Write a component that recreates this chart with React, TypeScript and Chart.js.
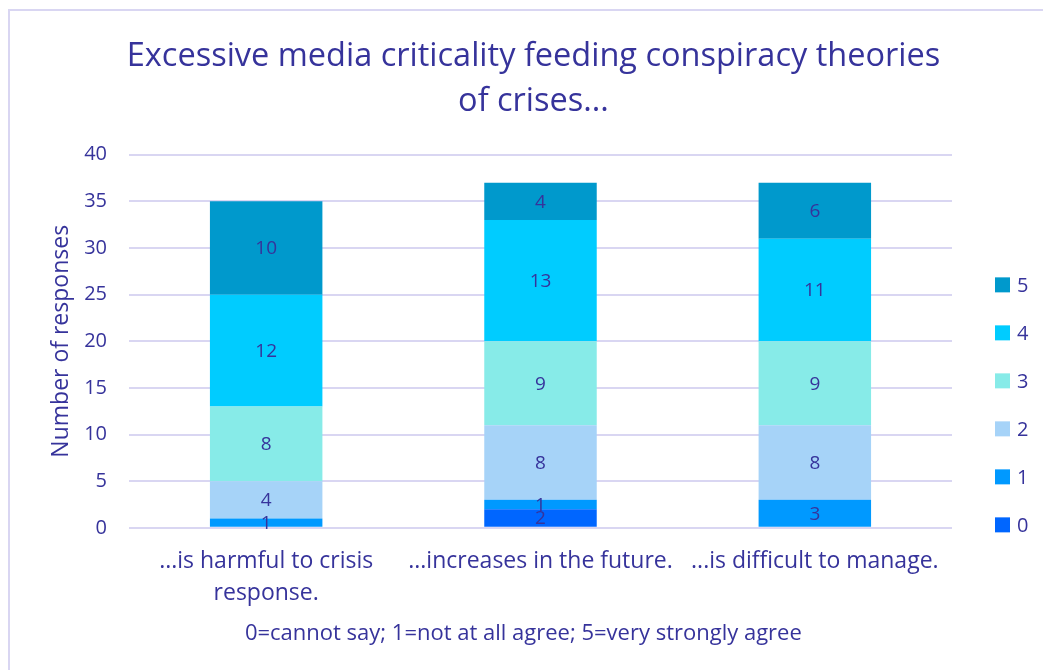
import React, { useEffect, useRef } from "react";
import { Chart, registerables } from "chart.js";

Chart.register(...registerables);

const categories: (string | string[])[] = [
  ["...is harmful to crisis", "response."],
  "...increases in the future.",
  "...is difficult to manage.",
];
const seriesNames = ["0", "1", "2", "3", "4", "5"];
const s0 = [0, 2, 0];
const s1 = [1, 1, 3];
const s2 = [4, 8, 8];
const s3 = [8, 9, 9];
const s4 = [12, 13, 11];
const s5 = [10, 4, 6];
const seriesValues = [s0, s1, s2, s3, s4, s5];
const seriesColors = ["#0066FF", "#0099FF", "#A6D3F8", "#87EBE8", "#00CCFF", "#0099CC"];
const yTicks = [0, 5, 10, 15, 20, 25, 30, 35, 40];

const TEXT = "#36339B";
const GRID = "#D9D6F2";
const FONT = "'Open Sans', sans-serif";

const valueLabels = {
  id: "valueLabels",
  afterDatasetsDraw(chart: any) {
    const ctx = chart.ctx;
    ctx.save();
    ctx.fillStyle = TEXT;
    ctx.font = `19px ${FONT}`;
    ctx.textAlign = "center";
    ctx.textBaseline = "middle";
    chart.data.datasets.forEach((ds: any, i: number) => {
      const meta = chart.getDatasetMeta(i);
      meta.data.forEach((bar: any, j: number) => {
        const v = ds.data[j];
        if (!v) return;
        const { x, y, base } = bar.getProps(["x", "y", "base"], true);
        ctx.fillText(String(v), x, (y + base) / 2 + 1);
      });
    });
    ctx.restore();
  },
};

// Vertical legend on the right, reversed order, bottom-aligned to the plot area
const sideLegend = {
  id: "sideLegend",
  afterDraw(chart: any) {
    const ctx = chart.ctx;
    const area = chart.chartArea;
    ctx.save();
    ctx.font = `20px ${FONT}`;
    ctx.textAlign = "left";
    ctx.textBaseline = "middle";
    chart.data.datasets.forEach((ds: any, i: number) => {
      const cy = area.bottom - 3 - 48 * i;
      const bx = area.right + 43;
      ctx.fillStyle = ds.backgroundColor;
      ctx.fillRect(bx, cy - 7.5, 15, 15);
      ctx.fillStyle = TEXT;
      ctx.fillText(ds.label, bx + 22, cy + 1);
    });
    ctx.restore();
  },
};

export default function App() {
  const ref = useRef<HTMLCanvasElement>(null);
  useEffect(() => {
    const chart = new Chart(ref.current!, {
      type: "bar",
      data: {
        labels: categories,
        datasets: seriesNames.map((n, i) => ({
          label: n,
          data: seriesValues[i],
          backgroundColor: seriesColors[i],
          borderWidth: 0,
          barPercentage: 0.41,
          categoryPercentage: 1,
        })),
      },
      options: {
        animation: false,
        responsive: false,
        layout: { padding: { left: 24, right: 0, top: 0, bottom: 24 } },
        plugins: {
          title: {
            display: true,
            text: ["Excessive media criticality feeding conspiracy theories", "of crises..."],
            color: TEXT,
            font: { family: FONT, size: 32.5, weight: "normal", lineHeight: 1.38 },
            padding: { top: 34, bottom: 31 },
          },
          legend: { display: false },
          tooltip: { enabled: false },
        },
        scales: {
          x: {
            stacked: true,
            grid: { display: false },
            border: { display: false },
            ticks: {
              color: TEXT,
              font: { family: FONT, size: 23, lineHeight: 1.39 },
              maxRotation: 0,
              autoSkip: false,
              padding: 10,
            },
            title: {
              display: true,
              text: "0=cannot say; 1=not at all agree; 5=very strongly agree      ",
              color: TEXT,
              font: { family: FONT, size: 22, lineHeight: 1.1 },
              padding: { top: 2, bottom: 0 },
            },
          },
          y: {
            stacked: true,
            min: 0,
            max: 40,
            afterBuildTicks: (scale: any) => {
              scale.ticks = yTicks.map((v) => ({ value: v }));
            },
            afterFit: (scale: any) => {
              scale.width = 105;
            },
            grid: { color: GRID, lineWidth: 2, drawTicks: false },
            border: { display: false },
            ticks: {
              color: TEXT,
              font: { family: FONT, size: 20 },
              padding: 22,
            },
            title: {
              display: true,
              text: "Number of responses",
              color: TEXT,
              font: { family: FONT, size: 23 },
              padding: { top: 24, bottom: 0 },
            },
          },
          legendSpace: {
            type: "linear",
            position: "right",
            display: true,
            grid: { display: false, drawTicks: false },
            border: { display: false },
            ticks: { display: false },
            afterFit: (scale: any) => {
              scale.width = 91;
            },
          },
        },
      },
      plugins: [valueLabels, sideLegend],
    } as any);
    return () => chart.destroy();
  }, []);
  return (
    <div style={{ position: "fixed", left: 0, top: 0, width: 1043, height: 670, background: "#fff", overflow: "hidden" }}>
      <div
        style={{
          position: "absolute",
          left: 8,
          top: 9,
          width: 1100,
          height: 700,
          border: `2px solid ${GRID}`,
          boxSizing: "border-box",
        }}
      />
      <canvas ref={ref} width={1043} height={670} style={{ position: "absolute", left: 0, top: 0 }} />
    </div>
  );
}
